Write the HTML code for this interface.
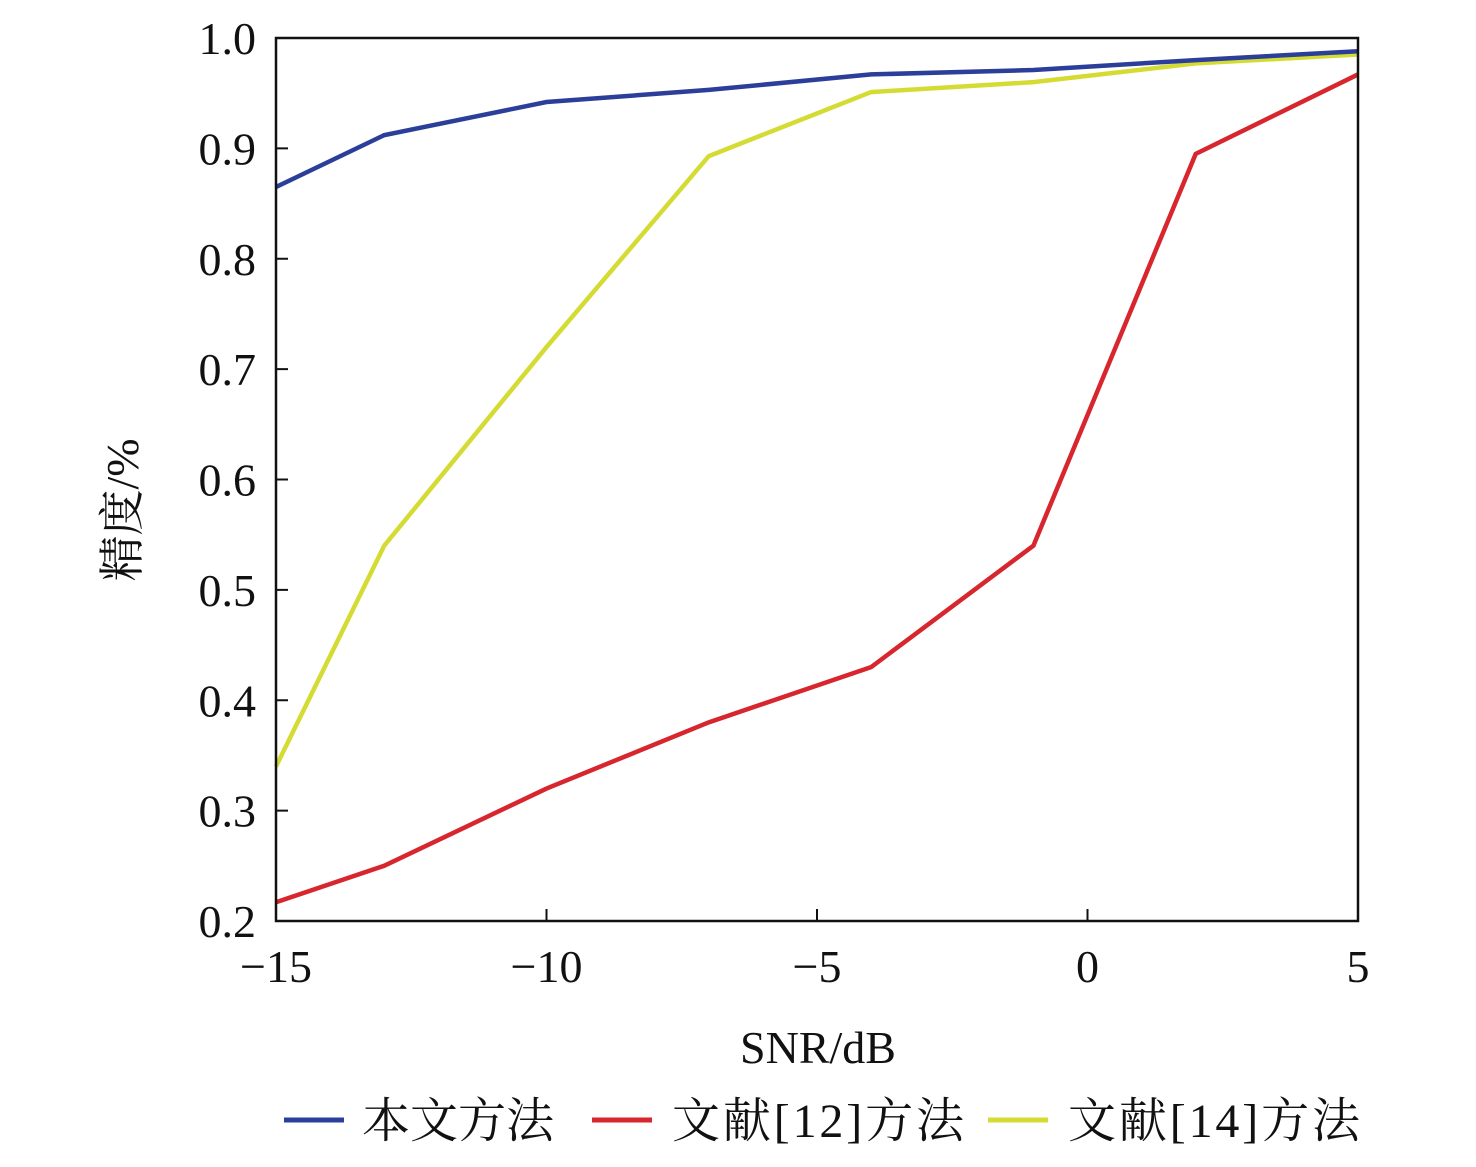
<!DOCTYPE html>
<html><head><meta charset="utf-8"><style>
body{margin:0;background:#fff;}
svg text{font-family:"Liberation Serif","Noto Serif CJK SC",serif;fill:#111;}
</style></head><body>
<svg width="1476" height="1162" xmlns="http://www.w3.org/2000/svg">
<g id="ticks"></g>
<g id="lines"></g>
<rect x="276" y="38" width="1082" height="883" fill="none" stroke="#111" stroke-width="2.5"/>
<text x="818" y="1063" font-size="46" text-anchor="middle">SNR/dB</text>
<text transform="translate(138,510) rotate(-90)" font-size="46" text-anchor="middle">精度/%</text>
<g>
<line x1="284" y1="1120" x2="344" y2="1120" stroke="#2b3e9a" stroke-width="5"/>
<text x="362" y="1137" font-size="48">本文方法</text>
<line x1="592" y1="1120" x2="652" y2="1120" stroke="#d7262e" stroke-width="5"/>
<text x="672" y="1137" font-size="48" textLength="292">文献[12]方法</text>
<line x1="988" y1="1120" x2="1048" y2="1120" stroke="#d4dc34" stroke-width="5"/>
<text x="1068" y="1137" font-size="48" textLength="292">文献[14]方法</text>
</g>
</svg>
<script>
const xs=[-15,-13,-10,-7,-4,-1,2,5];
const ours=[0.865,0.912,0.942,0.953,0.967,0.971,0.980,0.988];
const ref12=[0.217,0.25,0.32,0.38,0.43,0.54,0.895,0.967];
const ref14=[0.34,0.54,0.72,0.893,0.951,0.960,0.977,0.985];
const xTicks=[-15,-10,-5,0,5];
const xTickLabels=["−15","−10","−5","0","5"];
const yTicks=[0.2,0.3,0.4,0.5,0.6,0.7,0.8,0.9,1.0];
const yTickLabels=["0.2","0.3","0.4","0.5","0.6","0.7","0.8","0.9","1.0"];
const NS="http://www.w3.org/2000/svg";
const X=v=>276+(v+15)/20*1082;
const Y=v=>921-(v-0.2)/0.8*883;
const tg=document.getElementById('ticks'),lg=document.getElementById('lines');
xTicks.forEach((t,i)=>{
 const l=document.createElementNS(NS,'line');
 l.setAttribute('x1',X(t));l.setAttribute('x2',X(t));l.setAttribute('y1',921);l.setAttribute('y2',909);
 l.setAttribute('stroke','#111');l.setAttribute('stroke-width','2');
 
 
 tg.appendChild(l);
 const tx=document.createElementNS(NS,'text');
 tx.setAttribute('x',X(t));tx.setAttribute('y',982);tx.setAttribute('font-size','46');tx.setAttribute('text-anchor','middle');
 tx.textContent=xTickLabels[i];
 
 
 tg.appendChild(tx);
});
yTicks.forEach((t,i)=>{
 const l=document.createElementNS(NS,'line');
 l.setAttribute('x1',276);l.setAttribute('x2',288);l.setAttribute('y1',Y(t));l.setAttribute('y2',Y(t));
 l.setAttribute('stroke','#111');l.setAttribute('stroke-width','2');
 
 
 tg.appendChild(l);
 const tx=document.createElementNS(NS,'text');
 tx.setAttribute('x',256);tx.setAttribute('y',Y(t)+16);tx.setAttribute('font-size','46');tx.setAttribute('text-anchor','end');
 tx.textContent=yTickLabels[i];
 
 
 tg.appendChild(tx);
});
[[ref14,'#d4dc34','line-ref14'],[ref12,'#d7262e','line-ref12'],[ours,'#2b3e9a','line-ours']].forEach(([d,c,n])=>{
 const p=document.createElementNS(NS,'polyline');
 p.setAttribute('points',d.map((v,i)=>X(xs[i])+','+Y(v)).join(' '));
 p.setAttribute('fill','none');p.setAttribute('stroke',c);p.setAttribute('stroke-width','4.5');
 
 
 lg.appendChild(p);
});
</script>
</body></html>
